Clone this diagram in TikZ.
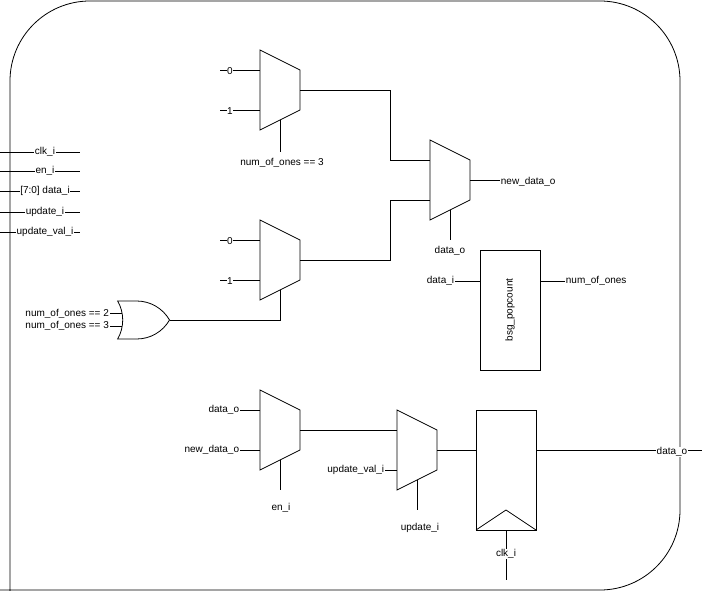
\documentclass[tikz,border=0pt]{standalone}
\usepackage{fontspec}
\setmainfont{Liberation Sans}
\usetikzlibrary{shapes.gates.logic.US}
\begin{document}
\begin{tikzpicture}[x=1pt,y=-1pt,line width=0.8pt,
  lbl/.style={font=\fontsize{10}{12}\selectfont,inner sep=0.5pt,fill=white},
  plain/.style={font=\fontsize{10}{12}\selectfont,inner sep=0.5pt}]
\useasboundingbox (0,0) rectangle (702,591);
% outline
\draw[rounded corners=80pt] (10,591) -- (10,1) -- (680,1) -- (680,590) -- (0,590);
% left inputs
\foreach \y/\t/\n in {152/clk\_i/i1,171/en\_i/i2,191/{[7:0] data\_i}/i3,212/update\_i/i4,232/update\_val\_i/i5}{
  \coordinate (\n a) at (0,\y); \coordinate (\n b) at (80,\y);
  \draw (\n a) -- (\n b);
  \node[lbl] (\n) at (45,\y) {\t};
}
% mux macro
\def\mux#1#2#3{% name, left x, top y
  \draw (#2,#3) -- ++(40,20) -- ++(0,40) -- ++(-40,20) -- cycle;
  \coordinate (#1in0) at (#2,#3+20);
  \coordinate (#1in1) at (#2,#3+60);
  \coordinate (#1out) at (#2+40,#3+40);
  \coordinate (#1sel) at (#2+20,#3+70);
}
\mux{m1}{260}{50}
\mux{m2}{430}{140}
\mux{m3}{260}{220}
\mux{m4}{260}{390}
\mux{m5}{397}{410}
% mux1 inputs
\coordinate (a0) at (220,70); \coordinate (a1) at (220,110);
\draw (a0) -- (m1in0); \draw (a1) -- (m1in1);
\node[lbl] (z1) at (230,71) {0}; \node[lbl] (o1) at (230,111) {1};
\node[plain] (s1) at (282,163) {num\_of\_ones == 3};
\draw (m1sel) -- (280,152);
% mux3 inputs
\coordinate (b0) at (220,240); \coordinate (b1) at (220,280);
\draw (b0) -- (m3in0); \draw (b1) -- (m3in1);
\node[lbl] (z3) at (230,241) {0}; \node[lbl] (o3) at (230,281) {1};
% to mux2
\draw (m1out) -- (390,90) |- (m2in0);
\draw (m3out) -- (390,260) |- (m2in1);
\coordinate (nd) at (500,180);
\draw (m2out) -- (nd);
\node[plain,anchor=west] (ndl) at (500,182) {new\_data\_o};
\draw (m2sel) -- (450,240);
\node[plain] (s2) at (450,251) {data\_o};
% OR gate
\node[or gate US,draw,logic gate inputs=nn,minimum width=38pt,minimum height=38pt,anchor=output] (or) at (170,320) {};
\draw (or.input 1) -- ++(-12,0) node[plain,anchor=east] (oi1) {num\_of\_ones == 2};
\draw (or.input 2) -- ++(-12,0) node[plain,anchor=east] (oi2) {num\_of\_ones == 3};
\draw (or.output) -- (280,320) -- (m3sel);
% popcount
\draw (480,250) rectangle (540,370);
\node[plain,rotate=90] (pc) at (510,310) {bsg\_popcount};
\coordinate (pci) at (480,281); \coordinate (pco) at (540,281);
\draw (pci) -- (455,281) node[plain,anchor=east] (pcil) {data\_i};
\draw (pco) -- (565,281) node[plain,anchor=west] (pcol) {num\_of\_ones};
% bottom mux4
\draw (m4in0) -- ++(-20,0) node[plain,anchor=east] (d4a) {data\_o};
\draw (m4in1) -- ++(-20,0) node[plain,anchor=east] (d4b) {new\_data\_o};
\draw (m4sel) -- (280,490);
\node[plain] (e4) at (281,508) {en\_i};
\draw (m4out) -- (m5in0);
\draw (m5in1) -- ++(-12,0) node[plain,anchor=east] (uv) {update\_val\_i};
\draw (m5sel) -- (417,510);
\node[plain] (u5) at (420,528) {update\_i};
% register
\draw (476,410) rectangle (536,530);
\draw (476,530) -- (506,510) -- (536,530);
\coordinate (rin) at (476,450); \coordinate (rout) at (536,450);
\draw (m5out) -- (rin);
\coordinate (rc) at (506,530); \coordinate (rce) at (506,580);
\draw (rc) -- (rce);
\node[lbl] (ck) at (506,554) {clk\_i};
\coordinate (dout) at (702,450);
\draw (rout) -- (dout);
\node[lbl] (dol) at (672,452) {data\_o};
\end{tikzpicture}
\end{document}
